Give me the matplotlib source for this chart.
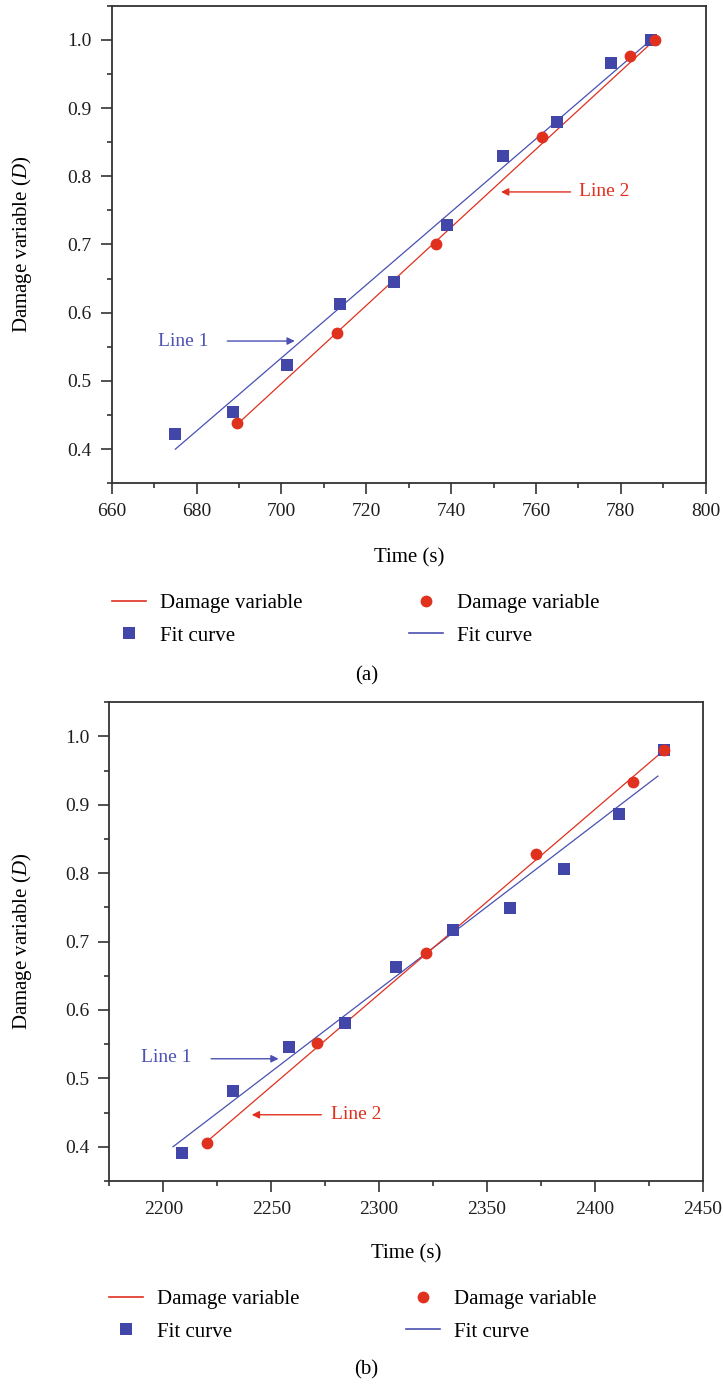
import matplotlib
matplotlib.use("Agg")
import matplotlib.pyplot as plt
from matplotlib.lines import Line2D
from matplotlib.ticker import MultipleLocator, AutoMinorLocator

plt.rcParams["font.family"] = "Liberation Serif"
plt.rcParams["mathtext.fontset"] = "custom"
plt.rcParams["mathtext.rm"] = "Liberation Serif"
plt.rcParams["mathtext.it"] = "Liberation Serif:italic"

RED = "#e0301e"
BLUE = "#4146a8"
BLUE_LINE = "#4a50b2"
SPINE = "#333333"

# ── panel (a) ────────────────────────────────────────────────────────────────
sq_x_a = [675.0, 688.5, 701.3, 713.9, 726.6, 739.1, 752.2, 764.9, 777.7, 787.2]
sq_y_a = [0.422, 0.454, 0.523, 0.613, 0.645, 0.728, 0.830, 0.880, 0.966, 1.000]
ci_x_a = [689.5, 713.2, 736.4, 761.4, 782.2, 788.0]
ci_y_a = [0.439, 0.570, 0.700, 0.857, 0.976, 1.000]
line1_x_a = [675.0, 787.5]
line1_y_a = [0.400, 1.002]
line2_x_a = [689.5, 788.0]
line2_y_a = [0.436, 1.000]

# ── panel (b) ────────────────────────────────────────────────────────────────
sq_x_b = [2208.5, 2232.5, 2258.3, 2284.1, 2307.8, 2334.3, 2360.6, 2385.6, 2411.2, 2432.0]
sq_y_b = [0.391, 0.481, 0.546, 0.581, 0.663, 0.717, 0.749, 0.806, 0.887, 0.980]
ci_x_b = [2220.1, 2271.3, 2321.9, 2372.8, 2417.6, 2432.0]
ci_y_b = [0.406, 0.552, 0.683, 0.828, 0.933, 0.980]
line1_x_b = [2204.5, 2429.1]
line1_y_b = [0.400, 0.942]
line2_x_b = [2221.1, 2432.0]
line2_y_b = [0.410, 0.980]


def style_axes(ax, xlim, xmajor):
    ax.set_xlim(*xlim)
    ax.set_ylim(0.35, 1.05)
    ax.xaxis.set_major_locator(MultipleLocator(xmajor))
    ax.xaxis.set_minor_locator(AutoMinorLocator(2))
    ax.yaxis.set_major_locator(MultipleLocator(0.1))
    ax.yaxis.set_minor_locator(AutoMinorLocator(2))
    ax.yaxis.set_major_formatter(lambda v, p: f"{v:.1f}")
    for s in ax.spines.values():
        s.set_color(SPINE)
        s.set_linewidth(1.3)
    ax.tick_params(which="both", direction="out", color=SPINE, width=1.2,
                   labelsize=14, labelcolor="#1e1e1e", top=False, right=False)
    ax.tick_params(which="major", length=7.8, pad=6.5)
    ax.tick_params(which="minor", length=3.8)
    ax.set_ylabel(r"Damage variable ($\mathit{D}$)", fontsize=15)
    ax.set_xlabel("Time (s)", fontsize=15)
    ax.xaxis.label.set_va("center")
    ax.yaxis.label.set_va("center")


def draw_panel(ax, sx, sy, cx, cy, l1x, l1y, l2x, l2y):
    ax.plot(l1x, l1y, color=BLUE_LINE, lw=0.9, zorder=2)
    ax.plot(l2x, l2y, color=RED, lw=0.9, zorder=3)
    ax.plot(sx, sy, ls="none", marker="s", ms=8, color=BLUE, mew=0, zorder=4)
    ax.plot(cx, cy, ls="none", marker="o", ms=8.5, color=RED, mew=0, zorder=5)


def add_legend(fig, x, y):
    handles = [
        Line2D([], [], color=RED, lw=1.2),
        Line2D([], [], ls="none", marker="s", ms=8, color=BLUE, mew=0),
        Line2D([], [], ls="none", marker="o", ms=8.5, color=RED, mew=0),
        Line2D([], [], color=BLUE_LINE, lw=1.2),
    ]
    labels = ["Damage variable", "Fit curve", "Damage variable", "Fit curve"]
    fig.legend(handles, labels, loc="center", bbox_to_anchor=(x, y), ncol=2,
               frameon=False, fontsize=15, handlelength=1.65, handletextpad=0.65,
               columnspacing=5.1, labelspacing=0.62, borderpad=0)


fig = plt.figure(figsize=(7.23, 13.84), dpi=100)
ax_a = fig.add_axes([0.1545, 0.6508, 0.8216, 0.3451])
ax_b = fig.add_axes([0.1512, 0.1467, 0.8211, 0.3459])

draw_panel(ax_a, sq_x_a, sq_y_a, ci_x_a, ci_y_a, line1_x_a, line1_y_a, line2_x_a, line2_y_a)
style_axes(ax_a, (660, 800), 20)
ax_a.xaxis.set_label_coords(0.5, -0.157)
ax_a.yaxis.set_label_coords(-0.151, 0.5)

ax_a.text(676.8, 0.5585, "Line 1", color="#4d52b3", fontsize=14, ha="center", va="center")
ax_a.annotate("", xy=(703.8, 0.5585), xytext=(686.6, 0.5585),
              arrowprops=dict(arrowstyle="-|>", color=BLUE_LINE, lw=1.0, mutation_scale=11))
ax_a.text(770.1, 0.777, "Line 2", color=RED, fontsize=14, ha="left", va="center")
ax_a.annotate("", xy=(751.1, 0.777), xytext=(768.8, 0.777),
              arrowprops=dict(arrowstyle="-|>", color=RED, lw=1.0, mutation_scale=11))

draw_panel(ax_b, sq_x_b, sq_y_b, ci_x_b, ci_y_b, line1_x_b, line1_y_b, line2_x_b, line2_y_b)
style_axes(ax_b, (2175, 2450), 50)
ax_b.xaxis.set_label_coords(0.5, -0.1525)
ax_b.yaxis.set_label_coords(-0.147, 0.5)

ax_b.text(2201.3, 0.5306, "Line 1", color="#4d52b3", fontsize=14, ha="center", va="center")
ax_b.annotate("", xy=(2254.7, 0.5287), xytext=(2220.9, 0.5287),
              arrowprops=dict(arrowstyle="-|>", color=BLUE_LINE, lw=1.0, mutation_scale=11))
ax_b.text(2277.5, 0.4468, "Line 2", color=RED, fontsize=14, ha="left", va="center")
ax_b.annotate("", xy=(2239.7, 0.4468), xytext=(2274.5, 0.4468),
              arrowprops=dict(arrowstyle="-|>", color=RED, lw=1.0, mutation_scale=11))

add_legend(fig, 0.4917, 0.5524)
add_legend(fig, 0.4876, 0.0495)
fig.text(0.507, 1 - 676 / 1384, "(a)", fontsize=15, ha="center", va="center")
fig.text(0.507, 1 - 1370 / 1384, "(b)", fontsize=15, ha="center", va="center")

fig.savefig("out.png", dpi=100)
